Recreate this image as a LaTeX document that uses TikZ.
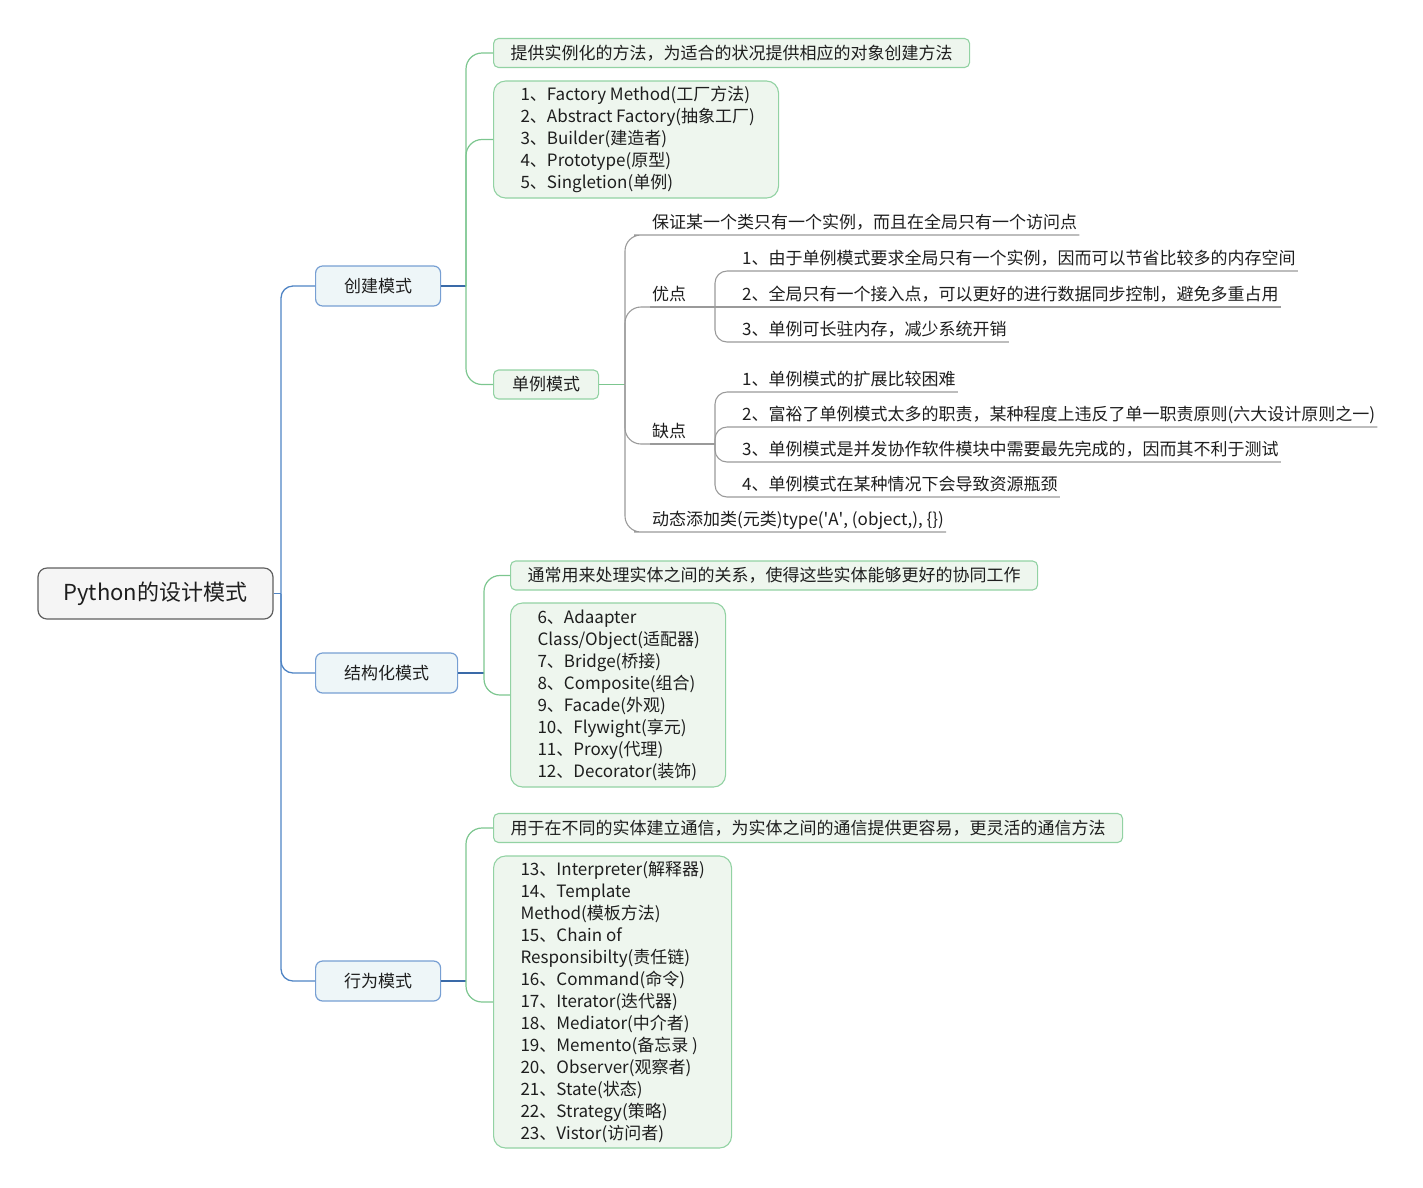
\documentclass[tikz,border=0pt]{standalone}
\usepackage{fontspec}
\setmainfont{Noto Sans CJK SC}
\definecolor{ink}{HTML}{1E1E1E}
\definecolor{rootfill}{HTML}{F5F5F5}
\definecolor{rootedge}{HTML}{5F5F5F}
\definecolor{topicfill}{HTML}{EEF6F8}
\definecolor{topicedge}{HTML}{779FD3}
\definecolor{trunkblue}{HTML}{4F84C4}
\definecolor{stubblue}{HTML}{3A6AA8}
\definecolor{greenfill}{HTML}{EEF6EE}
\definecolor{greenedge}{HTML}{92D2A3}
\definecolor{greenwire}{HTML}{7CC68F}
\definecolor{graywire}{HTML}{9A9A9A}
% list text: left indent, then a ragged column of fixed width
\newcommand{\itemcol}[2]{\hspace*{24pt}\parbox[c]{#1}{\raggedright #2}}
\tikzset{
  every node/.style={font=\fontsize{17}{22}\selectfont, text=ink},
  rootbox/.style={draw=rootedge, fill=rootfill, line width=1.2pt, rounded corners=9pt,
    minimum width=235pt, minimum height=51pt, font=\fontsize{22}{28}\selectfont},
  topicbox/.style={draw=topicedge, fill=topicfill, line width=1.2pt, rounded corners=7pt,
    inner xsep=28.5pt, minimum height=40pt, anchor=west},
  descbox/.style={draw=greenedge, fill=greenfill, line width=1.1pt, rounded corners=5pt,
    inner xsep=17pt, minimum height=29pt, anchor=west},
  listbox/.style={draw=greenedge, fill=greenfill, line width=1.1pt, rounded corners=12pt,
    inner xsep=0pt, inner ysep=0pt, anchor=west},
  ultext/.style={inner xsep=2pt, inner ysep=2pt, text height=14pt, text depth=4pt, anchor=south west},
  trunk/.style={draw=trunkblue, line width=1.3pt},
  stub/.style={draw=stubblue, line width=1.3pt},
  greenline/.style={draw=greenwire, line width=1.2pt},
  grayline/.style={draw=graywire, line width=1.1pt},
}
\begin{document}
\begin{tikzpicture}[x=1pt,y=-1pt]
\useasboundingbox (0,0) rectangle (1423,1187);

% root and first-level topics
\node[rootbox] (root) at (155.5,593.5) {Python的设计模式};
\node[topicbox] (cj) at (315,286) {创建模式};
\node[topicbox] (jg) at (315,673) {结构化模式};
\node[topicbox] (xw) at (315,981) {行为模式};

\coordinate (j0) at (281,593.5);
\draw[trunk] (root.east) -- (j0);
\foreach \c in {cj,jg,xw}
  \draw[trunk, rounded corners=12pt] (j0) -- (j0 |- \c.west) -- (\c.west);

% creational patterns
\coordinate (j1) at (466,286);
\draw[stub] (cj.east) -- (j1);
\node[descbox] (cjd) at (493,53) {提供实例化的方法，为适合的状况提供相应的对象创建方法};
\node[listbox, minimum width=285pt, minimum height=117pt] (cjl) at (493,139.5)
  {\itemcol{255pt}{1、Factory Method(工厂方法)\\2、Abstract Factory(抽象工厂)\\3、Builder(建造者)\\4、Prototype(原型)\\5、Singletion(单例)}};
\node[descbox, inner xsep=18.5pt] (dl) at (493,384.5) {单例模式};
\foreach \c in {cjd,cjl,dl}
  \draw[greenline, rounded corners=16pt] (j1) -- (j1 |- \c.west) -- (\c.west);

% singleton details
\coordinate (j2) at (625,384.5);
\draw[greenline] (dl.east) -- (j2);
\node[ultext] (s1) at (650,235) {保证某一个类只有一个实例，而且在全局只有一个访问点};
\node[ultext] (yd) at (650,307) {优点};
\node[ultext] (qd) at (650,444) {缺点};
\node[ultext] (dt) at (650,532) {动态添加类(元类)type(\textquotesingle A\textquotesingle, (object,), \{\})};
\foreach \c in {s1,dt}
  \draw[grayline, rounded corners=16pt] (j2) -- (j2 |- \c.south west) -- (\c.south west) -- (\c.south east);
\foreach \c in {yd,qd}
  \draw[grayline, rounded corners=16pt] (j2) -- (j2 |- \c.south west) -- (\c.south west);

% advantages
\coordinate (j3) at (715,307);
\draw[grayline] (yd.south west) -- (j3);
\node[ultext] (y1) at (740,271) {1、由于单例模式要求全局只有一个实例，因而可以节省比较多的内存空间};
\node[ultext] (y2) at (740,307) {2、全局只有一个接入点，可以更好的进行数据同步控制，避免多重占用};
\node[ultext] (y3) at (740,342) {3、单例可长驻内存，减少系统开销};
\foreach \c in {y1,y3}
  \draw[grayline, rounded corners=12pt] (j3) -- (j3 |- \c.south west) -- (\c.south west) -- (\c.south east);
\draw[grayline] (j3) -- (y2.south west) -- (y2.south east);

% disadvantages
\coordinate (j4) at (715,444);
\draw[grayline] (qd.south west) -- (j4);
\node[ultext] (q1) at (740,392) {1、单例模式的扩展比较困难};
\node[ultext] (q2) at (740,427) {2、富裕了单例模式太多的职责，某种程度上违反了单一职责原则(六大设计原则之一)};
\node[ultext] (q3) at (740,462) {3、单例模式是并发协作软件模块中需要最先完成的，因而其不利于测试};
\node[ultext] (q4) at (740,497) {4、单例模式在某种情况下会导致资源瓶颈};
\foreach \c in {q1,q2,q3,q4}
  \draw[grayline, rounded corners=12pt] (j4) -- (j4 |- \c.south west) -- (\c.south west) -- (\c.south east);

% structural patterns
\coordinate (j5) at (484,673);
\draw[stub] (jg.east) -- (j5);
\node[descbox] (jgd) at (510,575.5) {通常用来处理实体之间的关系，使得这些实体能够更好的协同工作};
\node[listbox, minimum width=215pt, minimum height=184pt] (jgl) at (510,695)
  {\itemcol{185pt}{6、Adaapter\\Class/Object(适配器)\\7、Bridge(桥接)\\8、Composite(组合)\\9、Facade(外观)\\10、Flywight(享元)\\11、Proxy(代理)\\12、Decorator(装饰)}};
\foreach \c in {jgd,jgl}
  \draw[greenline, rounded corners=16pt] (j5) -- (j5 |- \c.west) -- (\c.west);

% behavioral patterns
\coordinate (j6) at (466,981);
\draw[stub] (xw.east) -- (j6);
\node[descbox] (xwd) at (493,828) {用于在不同的实体建立通信，为实体之间的通信提供更容易，更灵活的通信方法};
\node[listbox, minimum width=238pt, minimum height=292pt] (xwl) at (493,1002)
  {\itemcol{208pt}{13、Interpreter(解释器)\\14、Template\\Method(模板方法)\\15、Chain of\\Responsibilty(责任链)\\16、Command(命令)\\17、Iterator(迭代器)\\18、Mediator(中介者)\\19、Memento(备忘录 )\\20、Observer(观察者)\\21、State(状态)\\22、Strategy(策略)\\23、Vistor(访问者)}};
\foreach \c in {xwd,xwl}
  \draw[greenline, rounded corners=16pt] (j6) -- (j6 |- \c.west) -- (\c.west);
\end{tikzpicture}
\end{document}
